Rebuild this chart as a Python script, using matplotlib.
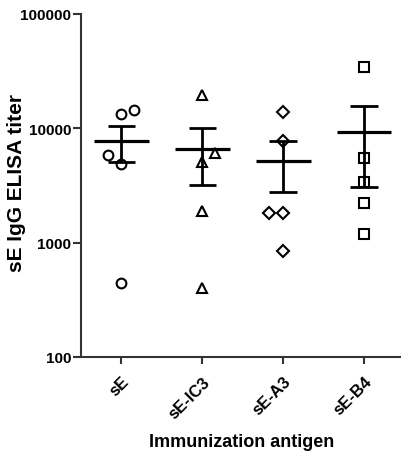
import numpy as np
import matplotlib
matplotlib.use("Agg")
import matplotlib.pyplot as plt

plt.rcParams.update({
    "font.family": ["Liberation Sans", "DejaVu Sans"],
    "font.weight": "bold",
    "axes.labelweight": "bold",
})

GROUPS = ["sE", "sE-IC3", "sE-A3", "sE-B4"]
MARKERS = ["o", "^", "D", "s"]
se     = [13250, 14400, 5800, 4860, 447]
se_ic3 = [19650, 6050, 5050, 1900, 404]
se_a3  = [13800, 7800, 1830, 1830, 845]
se_b4  = [34400, 5540, 3400, 2230, 1200]
titers = [se, se_ic3, se_a3, se_b4]
# horizontal scatter offsets for overlapping points
offsets = [[0, 0.16, -0.16, 0, 0],
           [0, 0.16, 0, 0, 0],
           [0, 0, -0.17, 0, 0],
           [0, 0, 0, 0, 0]]

fig = plt.figure(figsize=(4.02, 4.52), dpi=100)
ax = fig.add_axes([0.2015, 0.208, 0.7985, 0.759])

for i, (vals, m, off) in enumerate(zip(titers, MARKERS, offsets)):
    v = np.array(vals, dtype=float)
    xs = i + np.array(off)
    ms = 6.5 if m == "D" else 7
    ax.plot(xs, v, ls="none", marker=m, ms=ms, mfc="white", mec="black",
            mew=1.5, zorder=3)
    # mean +/- SEM
    mean = v.mean()
    sem = v.std(ddof=1) / np.sqrt(len(v))
    ax.hlines(mean, i - 0.34, i + 0.34, color="black", lw=2.3, zorder=4)
    ax.vlines(i, mean - sem, mean + sem, color="black", lw=2.0, zorder=4)
    ax.hlines([mean - sem, mean + sem], i - 0.17, i + 0.17, color="black",
              lw=2.0, zorder=4)

ax.set_yscale("log")
ax.set_ylim(100, 100000)
ax.set_yticks([100, 1000, 10000, 100000])
ax.set_yticklabels(["100", "1000", "10000", "100000"])
ax.yaxis.set_minor_locator(matplotlib.ticker.NullLocator())
ax.set_xlim(-0.5, 3.47)
ax.set_xticks(range(len(GROUPS)))
ax.set_xticklabels(GROUPS, rotation=45, ha="right", rotation_mode="anchor",
                   fontsize=12)

for s in ["top", "right"]:
    ax.spines[s].set_visible(False)
for s in ["left", "bottom"]:
    ax.spines[s].set_linewidth(1.5)
    ax.spines[s].set_color("#333333")
ax.tick_params(axis="both", direction="out", length=6, width=1.5,
               color="#333333")
ax.tick_params(axis="y", labelsize=11, pad=1)
ax.tick_params(axis="x", length=5, pad=7)

ax.set_ylabel("sE IgG ELISA titer", fontsize=15)
ax.yaxis.set_label_coords(-0.172, 0.51)
ax.set_xlabel("Immunization antigen", fontsize=13)
ax.xaxis.set_label_coords(0.5, -0.222)

fig.savefig("out.png", dpi=100)
